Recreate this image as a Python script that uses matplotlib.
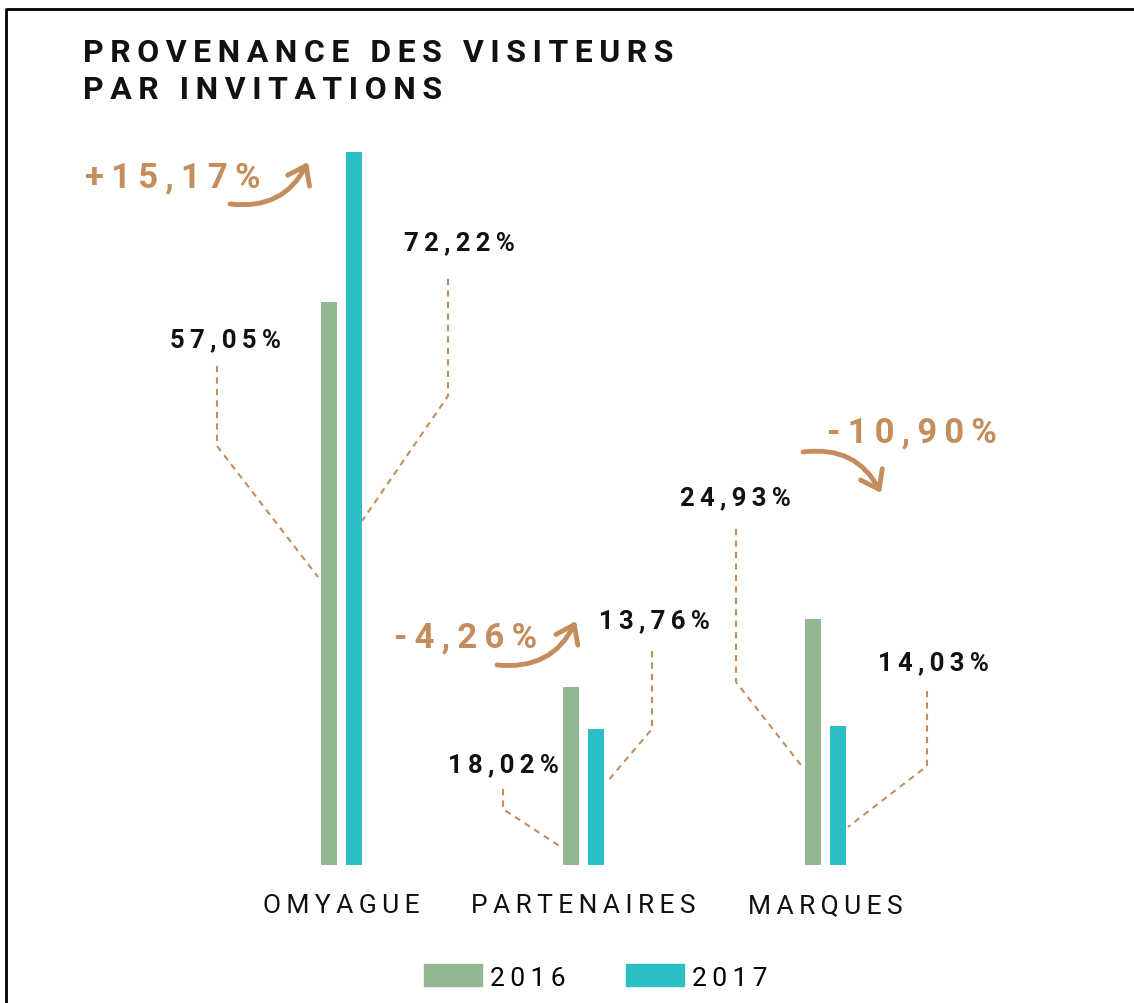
import matplotlib
matplotlib.use("Agg")
import matplotlib.pyplot as plt
from matplotlib.patches import Patch, FancyArrowPatch
from matplotlib.transforms import blended_transform_factory

# ---------------- data ----------------
categories = ["OMYAGUE", "PARTENAIRES", "MARQUES"]
years = ["2016", "2017"]
values_2016 = [57.05, 18.02, 24.93]
values_2017 = [72.22, 13.76, 14.03]
labels_2016 = ["57,05%", "18,02%", "24,93%"]
labels_2017 = ["72,22%", "13,76%", "14,03%"]
changes = ["+15,17%", "-4,26%", "-10,90%"]
title_lines = ["PROVENANCE DES VISITEURS", "PAR INVITATIONS"]

# ---------------- style ----------------
C2016 = "#93B793"
C2017 = "#2BBFC6"
TAN = "#C48E5C"
W, H = 1134, 1004
FAM = ["Roboto", "DejaVu Sans"]


def sp(s, n=1):
    return ("\u2009" * n).join(s)


fig = plt.figure(figsize=(W / 100, H / 100), dpi=100)
fig.patch.set_facecolor("white")

# overlay in pixel coordinates for annotations
ov = fig.add_axes([0, 0, 1, 1], zorder=0)
ov.set_xlim(0, W)
ov.set_ylim(H, 0)
ov.axis("off")

# bar axes: scale chosen so 1 category = 242.25 px, 1% = 9.876 px
unit = 242.25
ppp = 9.876
base = 866
x0 = 341
left = x0 - 1.2 * unit
ax = fig.add_axes([left / W, (H - base) / H, 4 * unit / W, 80 * ppp / H], zorder=1)
ax.set_xlim(-1.2, 2.8)
ax.set_ylim(0, 80)
ax.patch.set_alpha(0)
ax.axis("off")

bw = 16 / unit
off = 12.5 / unit
xs = list(range(len(categories)))
ax.bar([x - off for x in xs], values_2016, width=bw, color=C2016)
ax.bar([x + off for x in xs], values_2017, width=bw, color=C2017)

# frame
ov.plot([6, 6, W], [H, 10, 10], color="black", lw=2, solid_capstyle="butt")

# title
ov.text(83, 62, sp(title_lines[0]), family=FAM, fontweight="bold", fontsize=23,
        color="#111111", ha="left", va="baseline")
ov.text(83, 99, sp(title_lines[1]), family=FAM, fontweight="bold", fontsize=23,
        color="#111111", ha="left", va="baseline")

# category labels
tr = blended_transform_factory(ax.transData, ov.transData)
for x, c in zip(xs, categories):
    ax.text(x, 913, sp(c, 1), transform=tr, family=FAM, fontweight="normal",
            fontsize=19, color="#111111", ha="center", va="baseline")

# value labels with leader lines (layout in pixels)
label_pos_2016 = [(225, 347), (503, 772), (735, 505)]
label_pos_2017 = [(459, 250), (654, 628), (933, 670)]
leaders_2016 = [[(217, 367), (217, 447), (318, 578)],
                [(503, 790), (503, 810), (561, 848)],
                [(736, 530), (736, 683), (804, 770)]]
leaders_2017 = [[(448, 280), (448, 397), (362, 522)],
                [(652, 652), (652, 730), (607, 783)],
                [(927, 692), (927, 767), (848, 828)]]
for labs, poss, leads in [(labels_2016, label_pos_2016, leaders_2016),
                          (labels_2017, label_pos_2017, leaders_2017)]:
    for lab, (px, py), pts in zip(labs, poss, leads):
        ov.text(px, py, sp(lab), family=FAM, fontweight="bold", fontsize=18.5,
                color="#111111", ha="center", va="baseline")
        ov.plot([p[0] for p in pts], [p[1] for p in pts], color=TAN, lw=1.5,
                ls=(0, (3, 2.5)))

# change labels + curved arrows
change_pos = [(173, 187), (466, 647), (912, 442)]
arrows = [((230, 205), (308, 163), 0.35),
          ((497, 666), (576, 622), 0.35),
          ((803, 453), (881, 494), -0.35)]
for lab, (px, py) in zip(changes, change_pos):
    ov.text(px, py, sp(lab), family=FAM, fontweight="bold", fontsize=25,
            color=TAN, ha="center", va="baseline")
for a, b, r in arrows:
    arr = FancyArrowPatch(a, b, connectionstyle=f"arc3,rad={r}",
                          arrowstyle="->,head_length=0.55,head_width=0.4",
                          mutation_scale=22, lw=3.5, color=TAN,
                          shrinkA=0, shrinkB=0, capstyle="round",
                          joinstyle="round")
    ov.add_patch(arr)

# legend
handles = [Patch(color=C2016, label=sp(years[0])), Patch(color=C2017, label=sp(years[1]))]
leg = fig.legend(handles=handles, ncol=2, loc="center",
                 bbox_to_anchor=(596 / W, 1 - 978 / H), frameon=False,
                 prop={"family": FAM, "size": 19}, handlelength=2.2,
                 handleheight=0.9, handletextpad=0.3, columnspacing=2.3)

fig.savefig("out.png", dpi=100)
